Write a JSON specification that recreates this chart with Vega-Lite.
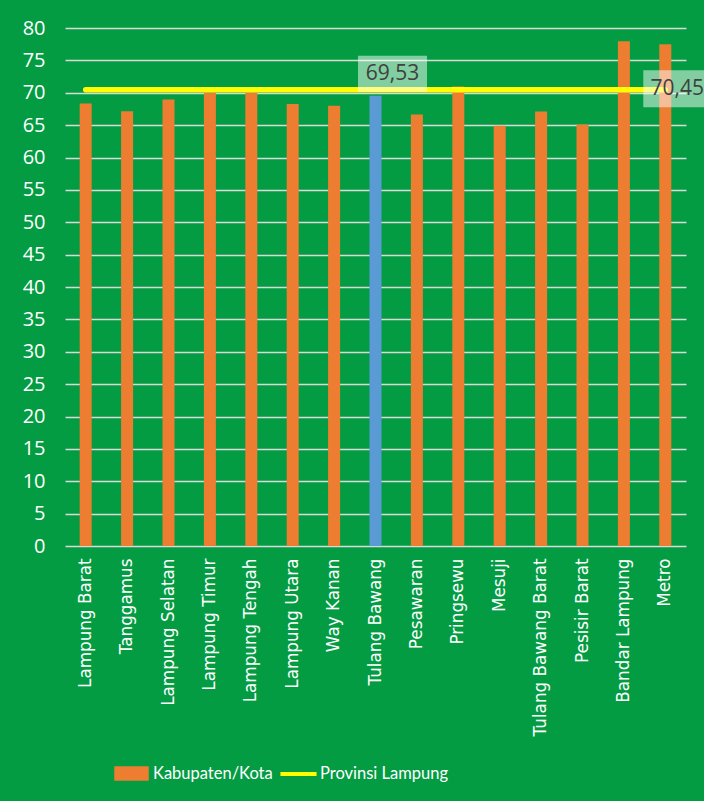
{
  "$schema": "https://vega.github.io/schema/vega-lite/v6.json",
  "width": 621,
  "height": 518,
  "autosize": {"type": "none"},
  "padding": {"left": 65, "top": 28, "right": 18, "bottom": 255},
  "background": "#039c43",
  "config": {
    "view": {"stroke": null},
    "axisY": {
      "tickCount": 20,
      "labelColor": "#ffffff",
      "labelFont": "Open Sans",
      "labelFontSize": 20,
      "labelPadding": 20,
      "labelOverlap": false,
      "ticks": false,
      "domain": false,
      "gridColor": "#d9d9d9",
      "gridWidth": 1.5,
      "gridOpacity": 1,
      "title": null
    },
    "locale": {"number": {"decimal": ",", "thousands": ".", "grouping": [3], "currency": ["Rp", ""]}}
  },
  "data": {
    "values": [
      {"region": "Lampung Barat", "kab": 68.35, "prov": 70.45},
      {"region": "Tanggamus", "kab": 67.16, "prov": 70.45},
      {"region": "Lampung Selatan", "kab": 68.97, "prov": 70.45},
      {"region": "Lampung Timur", "kab": 70.0, "prov": 70.45},
      {"region": "Lampung Tengah", "kab": 70.02, "prov": 70.45},
      {"region": "Lampung Utara", "kab": 68.25, "prov": 70.45},
      {"region": "Way Kanan", "kab": 68.0, "prov": 70.45},
      {"region": "Tulang Bawang", "kab": 69.53, "prov": 70.45},
      {"region": "Pesawaran", "kab": 66.65, "prov": 70.45},
      {"region": "Pringsewu", "kab": 70.97, "prov": 70.45},
      {"region": "Mesuji", "kab": 64.9, "prov": 70.45},
      {"region": "Tulang Bawang Barat", "kab": 67.1, "prov": 70.45},
      {"region": "Pesisir Barat", "kab": 65.1, "prov": 70.45},
      {"region": "Bandar Lampung", "kab": 77.96, "prov": 70.45},
      {"region": "Metro", "kab": 77.5, "prov": 70.45}
    ]
  },
  "encoding": {
    "x": {
      "field": "region",
      "type": "nominal",
      "sort": null,
      "title": null,
      "scale": {
        "domain": ["Lampung Barat", "Tanggamus", "Lampung Selatan", "Lampung Timur", "Lampung Tengah", "Lampung Utara", "Way Kanan", "Tulang Bawang", "Pesawaran", "Pringsewu", "Mesuji", "Tulang Bawang Barat", "Pesisir Barat", "Bandar Lampung", "Metro"],
        "paddingInner": 0.71,
        "paddingOuter": 0.355
      },
      "axis": {
        "labelAngle": -90,
        "labelAlign": "right",
        "labelBaseline": "middle",
        "labelColor": "#ffffff",
        "labelFont": "DejaVu Sans",
        "labelFontSize": 16.8,
        "labelPadding": 12,
        "ticks": false,
        "domain": false,
        "grid": false
      }
    }
  },
  "layer": [
    {
      "mark": {"type": "bar"},
      "encoding": {
        "y": {
          "field": "kab",
          "type": "quantitative",
          "title": null,
          "scale": {"domain": [0, 80], "nice": false},
          "axis": {"values": [0, 5, 10, 15, 20, 25, 30, 35, 40, 45, 50, 55, 60, 65, 70, 75, 80], "tickCount": 20}
        },
        "color": {
          "condition": {"test": "datum.region === 'Tulang Bawang'", "value": "#5b9bd5"},
          "datum": "Kabupaten/Kota",
          "type": "nominal",
          "scale": {"domain": ["Kabupaten/Kota", "Provinsi Lampung"], "range": ["#ed7d31", "#ffff00"]},
          "legend": {
            "title": null,
            "orient": "none",
            "direction": "horizontal",
            "legendX": 49,
            "legendY": 728,
            "padding": 0,
            "labelColor": "#ffffff",
            "labelFont": "Lato",
            "labelFontSize": 16.5,
            "labelOffset": 4,
            "columnPadding": 5,
            "symbolSize": 1089,
            "encode": {
              "symbols": {
                "update": {
                  "shape": {"signal": "datum.value === 'Provinsi Lampung' ? 'M-1.05,-0.08H1.05V0.08H-1.05Z' : 'M-1,-0.39H1V0.39H-1Z'"},
                  "fill": {"signal": "datum.value === 'Provinsi Lampung' ? '#ffff00' : '#ed7d31'"},
                  "stroke": {"value": "transparent"},
                  "opacity": {"value": 1},
                  "fillOpacity": {"value": 1}
                }
              }
            }
          }
        }
      }
    },
    {
      "mark": {"type": "line", "strokeWidth": 5.5, "strokeCap": "round"},
      "encoding": {
        "y": {"field": "prov", "type": "quantitative"},
        "color": {"datum": "Provinsi Lampung", "type": "nominal"}
      }
    },
    {
      "transform": [{"filter": "datum.region === 'Tulang Bawang'"}],
      "mark": {"type": "rect", "width": 69, "height": 36, "xOffset": 17, "yOffset": -22, "fill": "#ffffff", "fillOpacity": 0.5},
      "encoding": {
        "y": {"field": "kab", "type": "quantitative"}
      }
    },
    {
      "transform": [{"filter": "datum.region === 'Tulang Bawang'"}],
      "mark": {"type": "text", "xOffset": 17, "yOffset": -22, "font": "Open Sans", "fontSize": 21, "color": "#404040", "align": "center", "baseline": "middle"},
      "encoding": {
        "y": {"field": "kab", "type": "quantitative"},
        "text": {"field": "kab", "type": "quantitative", "format": ".2f"}
      }
    },
    {
      "transform": [{"filter": "datum.region === 'Metro'"}],
      "mark": {"type": "rect", "width": 68, "height": 37, "xOffset": 12, "yOffset": -1, "fill": "#ffffff", "fillOpacity": 0.5},
      "encoding": {
        "y": {"field": "prov", "type": "quantitative"}
      }
    },
    {
      "transform": [{"filter": "datum.region === 'Metro'"}],
      "mark": {"type": "text", "xOffset": 12, "yOffset": -1, "font": "Open Sans", "fontSize": 21, "color": "#404040", "align": "center", "baseline": "middle"},
      "encoding": {
        "y": {"field": "prov", "type": "quantitative"},
        "text": {"field": "prov", "type": "quantitative", "format": ".2f"}
      }
    }
  ]
}
